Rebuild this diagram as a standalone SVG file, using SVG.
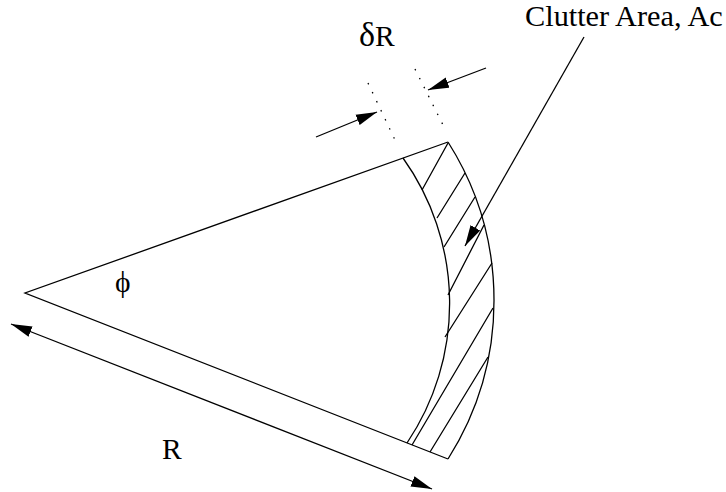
<svg xmlns="http://www.w3.org/2000/svg" width="726" height="492" viewBox="0 0 726 492">
<style>
.ln{fill:none;stroke:#000;stroke-width:1.3}
.dot{fill:none;stroke:#000;stroke-width:1.3;stroke-dasharray:1.5 8.5}
.tx{font-family:"Liberation Serif","DejaVu Serif","Times New Roman",serif;font-size:29.5px;fill:#000}
</style>
<defs>
<marker id="ah" markerUnits="userSpaceOnUse" markerWidth="22" markerHeight="12" refX="21" refY="6" orient="auto-start-reverse">
<path d="M0,0.5 L21,6 L0,11.5 Z" fill="#000"/>
</marker>
</defs>
<g id="sector">
<path class="ln" d="M448,142 L25,293 L448,459"/>
<path class="ln" d="M403,158 A250,250 0 0 1 407,443"/>
<path class="ln" d="M448,142 A296,296 0 0 1 448,459"/>
</g>
<g id="hatch">
<path class="ln" d="M422,190 L448,143 M437,218 L465,173 M444,247 L475,197 M448,295 L484,225 M445,337 L492,263 M412,445 L493,308 M430,452 L488,357"/>
</g>
<g id="dims">
<path class="dot" d="M368,83 L395,140"/>
<path class="dot" d="M415,69 L443,125"/>
</g>
<g id="connectors">
<line class="ln" x1="316" y1="137" x2="377" y2="112" marker-end="url(#ah)"/>
<line class="ln" x1="486" y1="68" x2="428" y2="90" marker-end="url(#ah)"/>
<line class="ln" x1="584" y1="37" x2="465" y2="246" marker-end="url(#ah)"/>
<line class="ln" x1="11" y1="324" x2="432" y2="489" marker-start="url(#ah)" marker-end="url(#ah)"/>
</g>
<g id="labels">
<text class="tx" x="525" y="26" style="font-size:30.3px">Clutter Area, Ac</text>
<text class="tx" x="359" y="46"><tspan style="font-size:34px">δ</tspan>R</text>
<text class="tx" x="115" y="292">ϕ</text>
<text class="tx" x="162" y="459">R</text>
</g>
</svg>
